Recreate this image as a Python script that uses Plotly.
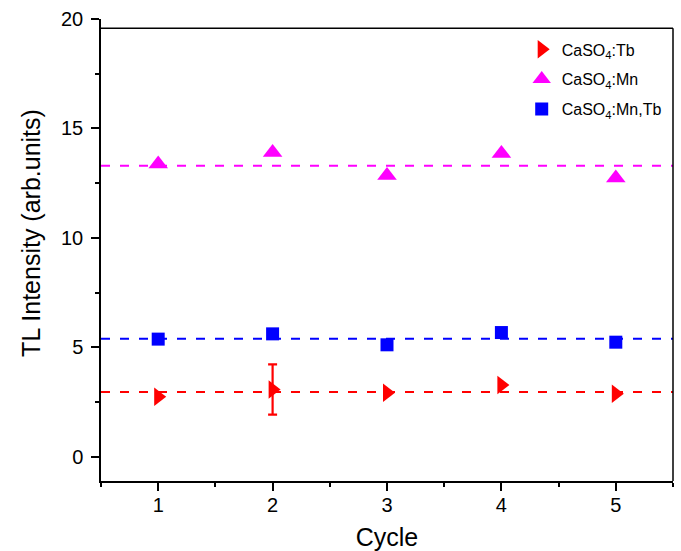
import plotly.graph_objects as go

cycles = [1, 2, 3, 4, 5]
tb_values = [2.75, 3.08, 2.93, 3.28, 2.88]
mn_values = [13.38, 13.9, 12.85, 13.86, 12.74]
mntb_values = [5.38, 5.62, 5.12, 5.68, 5.24]

tb_err_cycle = [2]
tb_err_value = [3.08]
tb_err_size = [1.15]

mean_tb = 2.97
mean_mn = 13.3
mean_mntb = 5.4

x_range = [0.5, 5.5]
y_range = [-1.1, 20]
y_frame_top = 19.58

names = ["CaSO<sub>4</sub>:Tb", "CaSO<sub>4</sub>:Mn", "CaSO<sub>4</sub>:Mn,Tb"]
colors = ["#FF0000", "#FF00FF", "#0000FF"]
x_title = "Cycle"
y_title = "TL Intensity (arb.units)"

FONT = "Liberation Sans, Arial, sans-serif"

fig = go.Figure()

# mean dashed lines
for m, c in zip([mean_tb, mean_mn, mean_mntb], colors):
    fig.add_trace(go.Scatter(x=x_range, y=[m, m], mode="lines",
                             line=dict(color=c, width=2, dash="9px,10px"),
                             showlegend=False, hoverinfo="skip"))

# error bar for Tb at cycle 2
fig.add_trace(go.Scatter(x=tb_err_cycle, y=tb_err_value, mode="markers",
                         marker=dict(size=1, color="rgba(0,0,0,0)"),
                         error_y=dict(type="data", array=tb_err_size, symmetric=True,
                                      color=colors[0], thickness=2.2, width=4.5),
                         showlegend=False, hoverinfo="skip"))

fig.add_trace(go.Scatter(x=cycles, y=tb_values, mode="markers", name=names[0],
                         legendgroup="g1",
                         marker=dict(symbol="triangle-right", size=16, color=colors[0])))
fig.add_trace(go.Scatter(x=cycles, y=mn_values, mode="markers", name=names[1],
                         legendgroup="g2",
                         marker=dict(symbol="triangle-up", size=17, color=colors[1])))
fig.add_trace(go.Scatter(x=cycles, y=mntb_values, mode="markers", name=names[2],
                         legendgroup="g3",
                         marker=dict(symbol="square", size=13, color=colors[2])))

axis_common = dict(showline=True, linecolor="black", linewidth=1.5,
                   ticks="outside", ticklen=8, tickwidth=1.5, tickcolor="black",
                   showgrid=False, zeroline=False,
                   tickfont=dict(family=FONT, size=20, color="black"))

fig.update_xaxes(range=x_range, dtick=1, tick0=1, ticklabelstandoff=-3,
                 minor=dict(dtick=0.5, tick0=0.5, ticks="outside", ticklen=4,
                            tickwidth=1.5, tickcolor="black"),
                 title=dict(text=x_title, font=dict(family=FONT, size=25, color="black"),
                            standoff=14),
                 automargin=False, **axis_common)
fig.update_yaxes(range=y_range, dtick=5, tick0=0, ticklabelstandoff=4,
                 minor=dict(dtick=2.5, tick0=0, ticks="outside", ticklen=4,
                            tickwidth=1.5, tickcolor="black"),
                 automargin=False, **axis_common)

# y-axis title (placed slightly above the axis centre, as in the reference)
fig.add_annotation(text=y_title, xref="paper", yref="paper", x=-0.1224, y=0.537,
                   xanchor="center", yanchor="middle", textangle=-90, showarrow=False,
                   font=dict(family=FONT, size=25, color="black"))

# frame: top and right borders
fig.add_shape(type="line", xref="paper", yref="y", x0=0, x1=1,
              y0=y_frame_top, y1=y_frame_top, line=dict(color="black", width=1.5))
fig.add_shape(type="line", xref="paper", yref="y", x0=1, x1=1,
              y0=y_range[0], y1=y_frame_top, line=dict(color="black", width=1.5))

fig.update_layout(
    width=681, height=551,
    margin=dict(l=101, r=8, t=19, b=70),
    paper_bgcolor="white", plot_bgcolor="white",
    font=dict(family=FONT, color="black"),
    legend=dict(x=0.7355, y=0.971, xanchor="left", yanchor="top",
                font=dict(family=FONT, size=16, color="black"),
                bgcolor="rgba(0,0,0,0)", tracegroupgap=6),
)

fig.write_html("out.html")
